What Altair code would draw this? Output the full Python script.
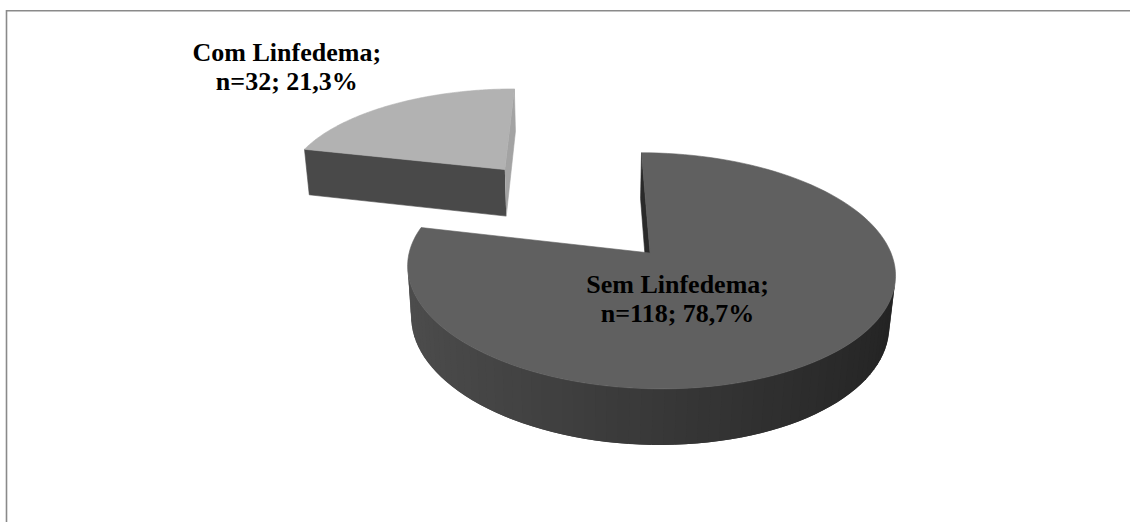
import math
import altair as alt
import pandas as pd

# ---------------- data ----------------
categories = ["Sem Linfedema", "Com Linfedema"]
counts = [118, 32]
slice_order = [0, 1]

# ---------------- style / layout ----------------
TOP_GRAY = {"Sem Linfedema": 96, "Com Linfedema": 178}
RADIAL_COLORS = {"Sem Linfedema": ["#2a2a2a", "#2a2a2a"],
                 "Com Linfedema": ["#494949", "#a3a3a3"]}
EXPLODE = {"Sem Linfedema": 0.0, "Com Linfedema": 1.036}
LABEL_POS = {"Sem Linfedema": (22.3, 0.343), "Com Linfedema": (-3.8, 1.905)}

PHI = math.radians(28.6)
SP, CP = math.sin(PHI), math.cos(PHI)
LDIST = 5.81
FOCAL = 1400
CX, CY = 585, 253
DEPTH = 0.2434
PIE_X = 0.27
N = 120
W, H = 1130, 522


def by_cat(mapping):
    cats = list(mapping.keys())
    expr = repr(mapping[cats[-1]])
    for c in reversed(cats[:-1]):
        expr = f"(datum.category === {c!r} ? {mapping[c]!r} : {expr})"
    return expr


def proj(X, Y, Z):
    zc = f"(({Y})*{CP} - ({Z})*{SP} + {LDIST})"
    sx = f"{CX} + {FOCAL}*({X})/{zc}"
    sy = f"{CY} - {FOCAL}*(({Y})*{SP} + ({Z})*{CP})/{zc}"
    return sx, sy


def gray(level_expr):
    g = f"round(clamp({level_expr}, 0, 255))"
    return f"'rgb(' + {g} + ',' + {g} + ',' + {g} + ')'"


xs = alt.Scale(domain=[0, W], nice=False, zero=False)
ys = alt.Scale(domain=[0, H], reverse=True, nice=False, zero=False)

df = pd.DataFrame({"category": categories, "n": counts, "ord": slice_order})

base = (
    alt.Chart(df)
    .transform_window(cum="sum(n)", sort=[alt.SortField("ord")], frame=[None, 0])
    .transform_joinaggregate(total="sum(n)")
    .transform_calculate(a0="(datum.cum - datum.n)/datum.total*2*PI")
    .transform_calculate(a1="datum.cum/datum.total*2*PI")
    .transform_calculate(ex=by_cat(EXPLODE))
    .transform_calculate(am="(datum.a0 + datum.a1)/2")
    .transform_calculate(ox=f"{PIE_X} + datum.ex*sin(datum.am)")
    .transform_calculate(oy="datum.ex*cos(datum.am)")
)

SX, SY = proj("datum.X", "datum.Y", "datum.Z")


def xy(chart):
    return chart.transform_calculate(sx=SX).transform_calculate(sy=SY)


# outer walls (only the parts turned to the viewer); each strip overlaps the next
walls = (
    base.transform_calculate(j=f"sequence(0, {N})")
    .transform_flatten(["j"])
    .transform_calculate(t0=f"datum.a0 + datum.j/{N}*(datum.a1 - datum.a0)")
    .transform_calculate(t1=f"datum.a0 + min(datum.j + 2, {N})/{N}*(datum.a1 - datum.a0)")
    .transform_calculate(tm=f"datum.a0 + (datum.j + 0.5)/{N}*(datum.a1 - datum.a0)")
    .transform_filter(
        f"-(datum.ox + sin(datum.tm))*sin(datum.tm) + (-{LDIST*CP} - datum.oy - cos(datum.tm))*cos(datum.tm) > 0")
    .transform_calculate(c="[0, 1, 2, 3]")
    .transform_flatten(["c"])
    .transform_calculate(ang="(datum.c == 0 || datum.c == 3) ? datum.t0 : datum.t1")
    .transform_calculate(Z=f"datum.c < 2 ? 0 : {-DEPTH}")
    .transform_calculate(X="datum.ox + sin(datum.ang)")
    .transform_calculate(Y="datum.oy + cos(datum.ang)")
)
walls = xy(walls).transform_calculate(
    col=gray(f"{by_cat(TOP_GRAY)}*(0.58 - 0.22*sin(datum.tm))")
).mark_line(strokeWidth=0, strokeOpacity=0).encode(
    x=alt.X("sx:Q", scale=xs, axis=None),
    y=alt.Y("sy:Q", scale=ys, axis=None),
    order=alt.Order("c:Q"),
    detail=["category:N", "j:Q"],
    fill=alt.Fill("col:N", scale=None),
)

# radial faces
rad0 = {k: v[0] for k, v in RADIAL_COLORS.items()}
rad1 = {k: v[1] for k, v in RADIAL_COLORS.items()}
radial = (
    base.transform_calculate(f="[0, 1]")
    .transform_flatten(["f"])
    .transform_calculate(ang="datum.f == 0 ? datum.a0 : datum.a1")
    .transform_calculate(nx="datum.f == 0 ? -cos(datum.ang) : cos(datum.ang)")
    .transform_calculate(ny="datum.f == 0 ? sin(datum.ang) : -sin(datum.ang)")
    .transform_filter(f"datum.nx*(-datum.ox) + datum.ny*(-{LDIST*CP} - datum.oy) > 0")
    .transform_calculate(c="[0, 1, 2, 3]")
    .transform_flatten(["c"])
    .transform_calculate(rr="(datum.c == 1 || datum.c == 2) ? 1 : 0")
    .transform_calculate(Z=f"datum.c < 2 ? 0 : {-DEPTH}")
    .transform_calculate(X="datum.ox + datum.rr*sin(datum.ang)")
    .transform_calculate(Y="datum.oy + datum.rr*cos(datum.ang)")
)
radial = xy(radial).transform_calculate(
    col=f"datum.f == 0 ? {by_cat(rad0)} : {by_cat(rad1)}"
).mark_line(strokeWidth=0.6).encode(
    x=alt.X("sx:Q", scale=xs, axis=None),
    y=alt.Y("sy:Q", scale=ys, axis=None),
    order=alt.Order("c:Q"),
    detail=["category:N", "f:Q"],
    fill=alt.Fill("col:N", scale=None),
    stroke=alt.Stroke("col:N", scale=None),
)

# top faces
tops = (
    base.transform_calculate(k=f"sequence(0, {N + 3})")
    .transform_flatten(["k"])
    .transform_calculate(rr=f"(datum.k == 0 || datum.k == {N + 2}) ? 0 : 1")
    .transform_calculate(ang=f"datum.a0 + clamp(datum.k - 1, 0, {N})/{N}*(datum.a1 - datum.a0)")
    .transform_calculate(Z="0")
    .transform_calculate(X="datum.ox + datum.rr*sin(datum.ang)")
    .transform_calculate(Y="datum.oy + datum.rr*cos(datum.ang)")
)
tops = xy(tops).transform_calculate(col=gray(by_cat(TOP_GRAY))).mark_line(strokeWidth=0.6).encode(
    x=alt.X("sx:Q", scale=xs, axis=None),
    y=alt.Y("sy:Q", scale=ys, axis=None),
    order=alt.Order("k:Q"),
    detail="category:N",
    fill=alt.Fill("col:N", scale=None),
    stroke=alt.Stroke("col:N", scale=None),
)

# labels
lshift = {k: v[0] for k, v in LABEL_POS.items()}
lrad = {k: v[1] for k, v in LABEL_POS.items()}
labels = (
    base.transform_calculate(la=f"datum.am + ({by_cat(lshift)})*PI/180")
    .transform_calculate(lr=by_cat(lrad))
    .transform_calculate(Z="0")
    .transform_calculate(X="datum.ox + datum.lr*sin(datum.la)")
    .transform_calculate(Y="datum.oy + datum.lr*cos(datum.la)")
)
labels = xy(labels).transform_calculate(
    label="datum.category + ';\\n' + 'n=' + datum.n + '; ' + replace(format(datum.n/datum.total*100, '.1f'), '.', ',') + '%'"
).mark_text(
    font="Liberation Serif", fontWeight="bold", fontSize=26, lineBreak="\n",
    lineHeight=29, align="center", baseline="alphabetic", color="black",
).encode(
    x=alt.X("sx:Q", scale=xs, axis=None),
    y=alt.Y("sy:Q", scale=ys, axis=None),
    text="label:N",
)

# frame
one = pd.DataFrame({"d": [0]})
frame_top = alt.Chart(one).mark_rule(color="#8a8a8a", strokeWidth=1.6).encode(
    x=alt.value(6.5), x2=alt.value(W), y=alt.value(10.8), y2=alt.value(10.8))
frame_left = alt.Chart(one).mark_rule(color="#8a8a8a", strokeWidth=1.6).encode(
    x=alt.value(6.5), x2=alt.value(6.5), y=alt.value(10), y2=alt.value(H))

chart = alt.layer(walls, radial, tops, labels, frame_top, frame_left).properties(
    width=W, height=H, padding=0, autosize="none", background="white"
).configure_view(stroke=None)

chart.save("out.html", embed_options={"renderer": "svg", "actions": False})
